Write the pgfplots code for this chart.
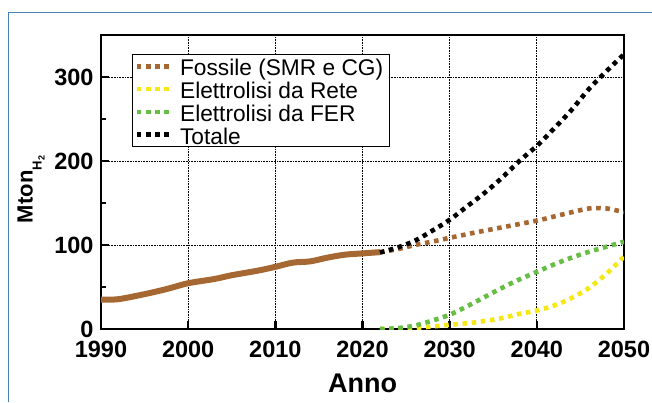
\documentclass[border=0pt]{standalone}
\usepackage{fontspec}
\setmainfont{Liberation Sans}
\usepackage{pgfplots}
\pgfplotsset{compat=1.18}
\definecolor{cbrown}{RGB}{166,104,50}
\definecolor{cyellow}{RGB}{245,232,20}
\definecolor{cgreen}{RGB}{104,190,68}
\definecolor{cframe}{RGB}{70,130,180}

\pgfplotstableread{
x y
1990 35
1992 35.5
1995 41.5
1997.5 47.5
2000 54.5
2003 59.5
2005 64
2008 69.5
2010 74
2012 79
2014 80.5
2016 85
2018 88.5
2020 90
2022 91.5
}\hist

\pgfplotstableread{
x y
2022 91.5
2024 95
2026 100
2028 104
2030 108.5
2033 115
2036 121
2040 129
2042 134
2044 139
2046 143.5
2048 143.5
2050 139
}\fossile

\pgfplotstableread{
x y
2022 0
2025 0.5
2028 3
2030 5
2033 8
2036 13
2038 18
2040 22
2042 28
2044 37
2046 49
2048 66
2050 86
}\rete

\pgfplotstableread{
x y
2022 0
2024 1
2026 4
2028 10
2030 17
2032 27
2034 38
2036 49
2038 59
2040 68
2042 77
2044 85
2046 92
2048 98
2050 104
}\fer

\pgfplotstableread{
x y
2022 91
2024 97
2026 105
2028 117
2030 130
2032 146
2034 162
2036 180
2038 200
2040 218
2042 239
2044 261
2046 286
2048 307
2050 327
}\totale

\begin{document}
\begin{tikzpicture}
\useasboundingbox (0,0) rectangle (652pt,402pt);
\draw[cframe, line width=1pt] (8pt,0) -- (8pt,389.7pt) -- (652pt,389.7pt);
\begin{axis}[
  at={(101pt,73pt)}, anchor=south west,
  width=523pt, height=294pt, scale only axis,
  xmin=1990, xmax=2050, ymin=0, ymax=350,
  xtick={1990,2000,...,2050}, ytick={0,100,200,300}, minor ytick={50,150,250},
  xtick pos=left, ytick pos=left,
  tick align=inside,
  major tick length=8pt, minor tick length=5pt,
  every tick/.style={black, line width=2.5pt},
  grid=major,
  major grid style={black, line width=0.7pt, dash pattern=on 0.8pt off 0.8pt},
  axis line style={line width=2.7pt},
  tick label style={font=\bfseries\fontsize{23.5}{23.5}\selectfont},
  xticklabel style={yshift=-9pt},
  yticklabel style={xshift=-4pt},
  /pgf/number format/assume math mode=true,
  /pgf/number format/1000 sep={},
  xlabel={Anno},
  xlabel style={font=\bfseries\fontsize{27}{27}\selectfont, at={(axis description cs:0.5,-0.2153)}, anchor=base},
  ylabel={Mton{\fontsize{13}{13}\selectfont\raisebox{-9pt}{H\hspace{0.5pt}{\fontsize{9}{9}\selectfont\raisebox{-3pt}{2}}}}},
  ylabel style={font=\bfseries\fontsize{22}{22}\selectfont, at={(axis description cs:-0.1338,0.475)}, anchor=center},
  legend cell align=left,
  legend style={at={(axis description cs:0.0593,0.935)}, anchor=north west,
    draw=black, line width=1pt, inner xsep=2pt, inner ysep=0.5pt,
    font=\fontsize{22.7}{22.7}\selectfont, row sep=0pt, column sep=4pt,
    nodes={text height=19pt, text depth=0pt, inner ysep=1.85pt, inner xsep=4pt}},
  legend image code/.code={\path (0pt,8pt); \draw[#1, line width=4.6pt, dash pattern=on 4.6pt off 4.6pt] (0pt,0pt) -- (33pt,0pt);},
]
\addplot[cbrown, line width=6pt, smooth, forget plot] table {\hist};
\addplot[cbrown, line width=4.6pt, dash pattern=on 4.6pt off 4.6pt, smooth] table {\fossile};
\addplot[cyellow, line width=4.6pt, dash pattern=on 4.6pt off 4.6pt, smooth] table {\rete};
\addplot[cgreen, line width=4.6pt, dash pattern=on 4.6pt off 4.6pt, smooth] table {\fer};
\addplot[black, line width=4.6pt, dash pattern=on 4.6pt off 4.6pt, smooth] table {\totale};
\legend{Fossile (SMR e CG), Elettrolisi da Rete, Elettrolisi da FER, Totale}
\end{axis}
\end{tikzpicture}
\end{document}
